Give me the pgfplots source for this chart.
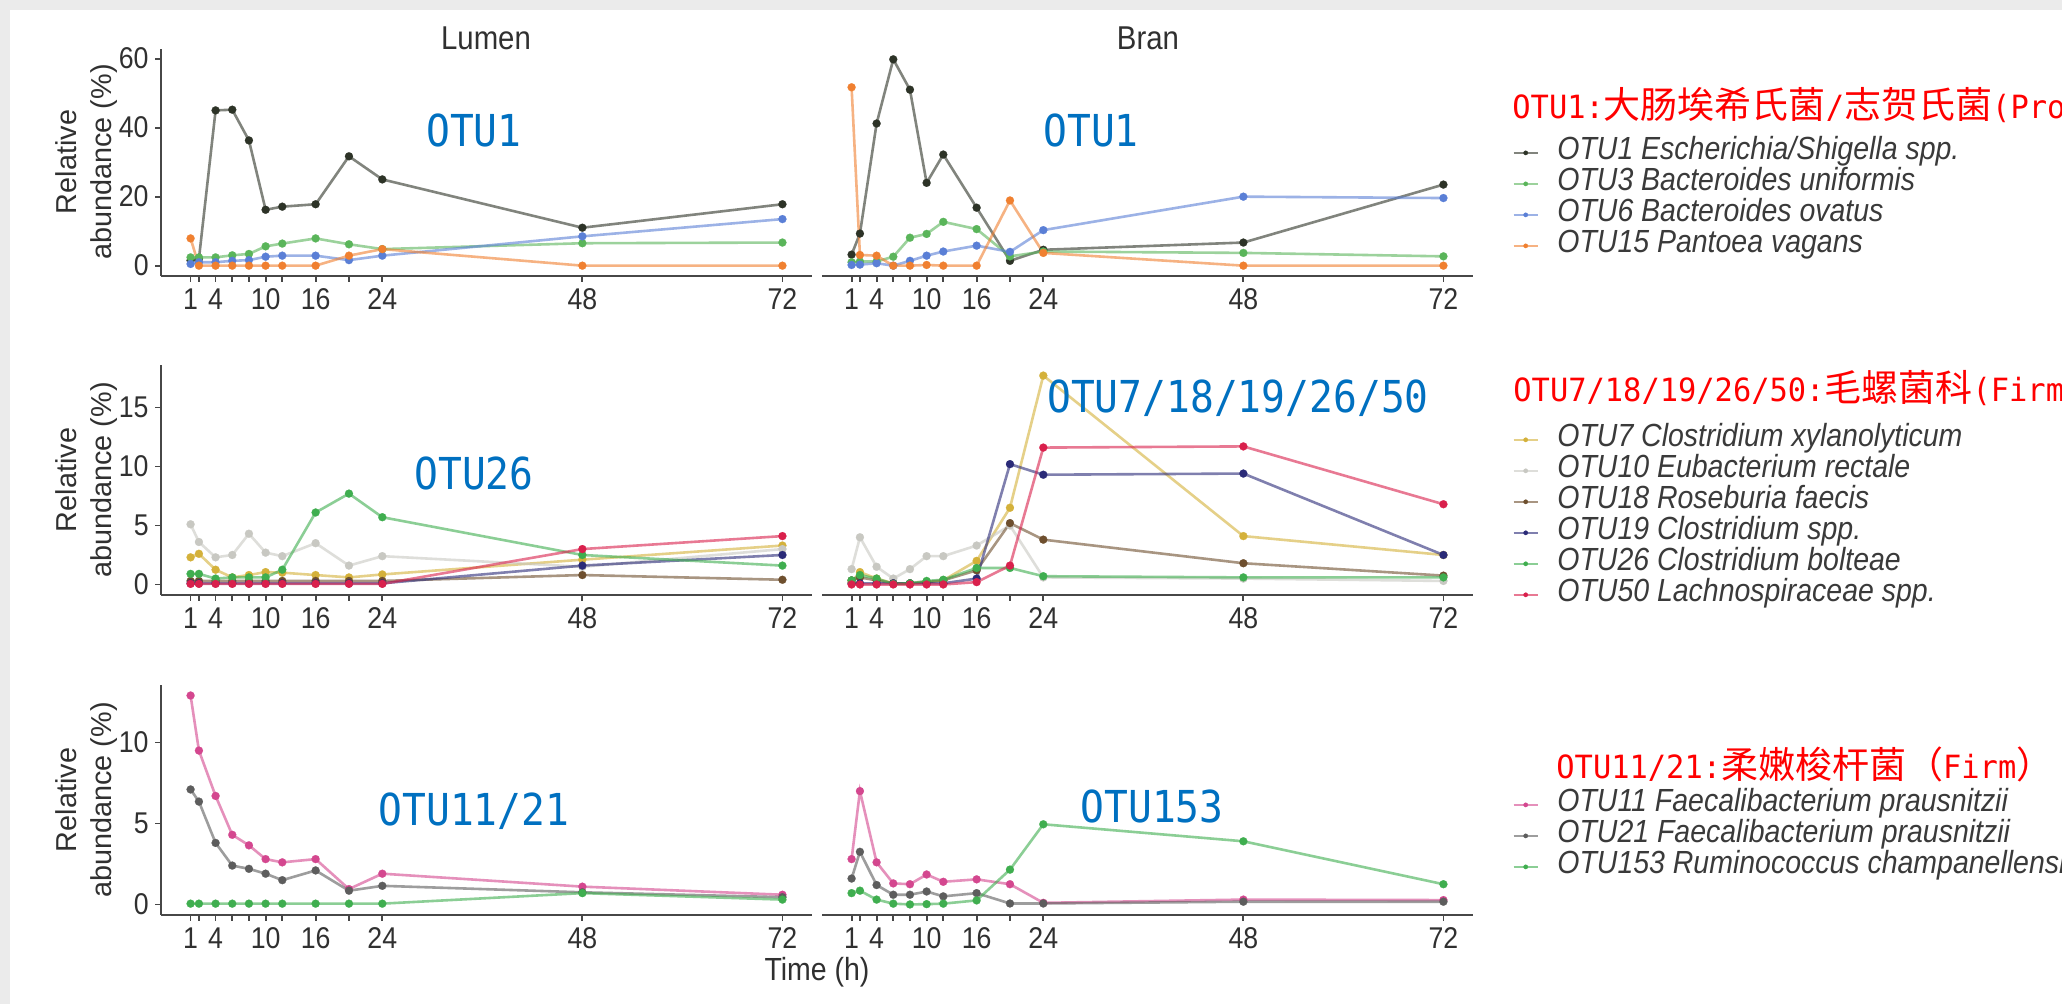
\documentclass[border=0pt]{standalone}
\usepackage{fontspec}
\setmainfont{Liberation Sans}[FakeStretch=0.89]
\newfontfamily\plainsans{Liberation Sans}
\newfontfamily\bluefont{DejaVu Sans Mono}[FakeStretch=0.9]
\newfontfamily\redlat{DejaVu Sans Mono}[FakeStretch=0.95]
\newfontfamily\cjk{Noto Sans CJK SC}
\usepackage{pgfplots}
\usepackage{pgfplotstable}
\pgfplotsset{compat=1.18}

\definecolor{axgray}{HTML}{474747}
\definecolor{tkgray}{HTML}{303030}
\definecolor{legtext}{HTML}{3A3A3A}
\definecolor{annblue}{HTML}{0070C0}
\definecolor{annred}{HTML}{FF0000}
\definecolor{cA}{HTML}{2D3327}
\definecolor{cB}{HTML}{5AB55A}
\definecolor{cC}{HTML}{5A7FD6}
\definecolor{cD}{HTML}{F08030}
\definecolor{cE}{HTML}{D4B13A}
\definecolor{cF}{HTML}{C8C8C2}
\definecolor{cG}{HTML}{6E4F2E}
\definecolor{cH}{HTML}{2B2B78}
\definecolor{cI}{HTML}{3FAE4F}
\definecolor{cJ}{HTML}{D9204C}
\definecolor{cK}{HTML}{D4478F}
\definecolor{cL}{HTML}{5D5D5D}

\newcommand\RL[1]{{\redlat\fontsize{16}{16}\selectfont #1}}
\newcommand\RC[1]{{\cjk\fontsize{18.5}{18.5}\selectfont #1}}

% Lumen / Bran, OTU1 group
\pgfplotstableread{
t o1 o3 o6 o15
1 1.5 2.4 0.5 7.9
2 2.0 2.4 1.0 0
4 45.0 2.4 1.0 0
6 45.2 3.0 1.4 0
8 36.3 3.4 1.6 0
10 16.2 5.6 2.6 0
12 17.1 6.4 2.9 0
16 17.8 7.9 2.9 0
20 31.7 6.2 1.6 2.9
24 25.0 4.8 2.9 4.8
48 11.0 6.5 8.5 0
72 17.8 6.7 13.5 0
}\tabTL
\pgfplotstableread{
t o1 o3 o6 o15
1 3.2 1.0 0.2 51.7
2 9.3 1.2 0.3 3.1
4 41.2 1.2 0.7 2.9
6 59.8 2.6 0.0 0
8 51.0 8.1 1.4 0
10 24.0 9.2 2.9 0.2
12 32.2 12.7 4.1 0
16 16.8 10.6 5.8 0
20 1.4 2.7 4.0 18.9
24 4.6 4.1 10.3 3.7
48 6.7 3.7 20.0 0
72 23.5 2.7 19.6 0
}\tabTR
% Firmicutes group
\pgfplotstableread{
t o7 o10 o18 o19 o26 o50
1 2.3 5.1 0.3 0.1 0.9 0.05
2 2.6 3.6 0.3 0.1 0.9 0.05
4 1.25 2.3 0.3 0.1 0.5 0.05
6 0.6 2.5 0.3 0.1 0.6 0.05
8 0.8 4.3 0.3 0.1 0.6 0.05
10 1.05 2.7 0.3 0.1 0.6 0.05
12 1.0 2.4 0.3 0.1 1.25 0.05
16 0.8 3.5 0.3 0.1 6.1 0.05
20 0.6 1.6 0.3 0.1 7.7 0.05
24 0.85 2.4 0.3 0.1 5.7 0.05
48 2.1 1.5 0.8 1.6 2.5 3.0
72 3.3 3.0 0.4 2.5 1.6 4.1
}\tabML
\pgfplotstableread{
t o7 o10 o18 o19 o26 o50
1 0.2 1.3 0.35 0.1 0.35 0
2 1.05 4.0 0.6 0.1 0.8 0
4 0.5 1.5 0.35 0.1 0.5 0
6 0.1 0.5 0.1 0.1 0.05 0
8 0.1 1.3 0.1 0.1 0.1 0
10 0.2 2.4 0.2 0.1 0.3 0
12 0.35 2.4 0.35 0.1 0.4 0
16 2.0 3.3 1.2 0.5 1.4 0.2
20 6.5 5.0 5.2 10.2 1.4 1.6
24 17.7 0.6 3.8 9.3 0.7 11.6
48 4.1 0.5 1.8 9.4 0.6 11.7
72 2.5 0.3 0.75 2.5 0.6 6.8
}\tabMR
% Faecalibacterium / Ruminococcus group
\pgfplotstableread{
t o11 o21 o153
1 12.9 7.1 0.05
2 9.5 6.35 0.05
4 6.7 3.8 0.05
6 4.3 2.4 0.05
8 3.65 2.2 0.05
10 2.8 1.9 0.05
12 2.6 1.5 0.05
16 2.8 2.1 0.05
20 0.95 0.85 0.05
24 1.9 1.15 0.05
48 1.1 0.75 0.7
72 0.6 0.45 0.3
}\tabBL
\pgfplotstableread{
t o11 o21 o153
1 2.8 1.6 0.7
2 7.0 3.25 0.85
4 2.6 1.2 0.3
6 1.3 0.6 0.05
8 1.25 0.6 0.0
10 1.85 0.8 0.02
12 1.4 0.5 0.05
16 1.55 0.7 0.25
20 1.25 0.06 2.15
24 0.1 0.06 4.95
48 0.3 0.17 3.9
72 0.27 0.17 1.25
}\tabBR

\pgfplotsset{
  panel/.style={
    scale only axis, width=325.5pt,
    xmin=-2.55, xmax=75.55,
    axis x line*=bottom, axis y line*=left,
    axis line style={-, draw=axgray, line width=1.1pt},
    every outer x axis line/.append style={-},
    every outer y axis line/.append style={-},
    tick align=outside, major tick length=3pt,
    tick style={draw=axgray, line width=0.9pt},
    xtick={1,2,4,6,8,10,12,16,20,24,48,72},
    xticklabels={1,,4,,,10,,16,,24,48,72},
    ticklabel style={font=\fontsize{15}{15}\selectfont, text=tkgray, inner sep=0pt},
    xticklabel shift=3pt, yticklabel shift=3pt,
    /pgf/number format/assume math mode=true,
    clip=false,
  },
  rpanel/.style={panel, axis y line=none, ymajorticks=false,
    legend cell align=left,
    legend style={draw=none, fill=none, inner sep=0pt, outer sep=0pt, row sep=0pt,
      font=\itshape\fontsize{16}{16}\selectfont, text=legtext,
      nodes={inner sep=0pt, text height=11pt, text depth=4.5pt},
      /tikz/every odd column/.append style={column sep=9.5pt}},
    legend image code/.code={\draw[##1, line width=0.7pt, mark size=1.1pt, mark repeat=2, mark phase=2] plot coordinates {(0pt,0pt) (6pt,0pt) (12pt,0pt)};},
  },
  ser/.style={draw=#1, draw opacity=0.6, line width=1.3pt, mark=*, mark size=2pt,
    mark options={draw=#1, fill=#1, opacity=1, line width=0.1pt}},
}

\begin{document}
\begin{tikzpicture}
\path[use as bounding box, clip] (0pt,0pt) rectangle (1031pt,502pt);
\fill[black!8] (0pt,0pt) rectangle (1031pt,502pt);
\fill[white] (5pt,0pt) rectangle (1031pt,497pt);

% ---- row 1 ----
\begin{axis}[panel, at={(80.5pt,364pt)}, height=113.5pt,
  ymin=-2.99, ymax=62.8, ytick={0,20,40,60}]
\addplot[ser=cA] table[x=t,y=o1]{\tabTL};
\addplot[ser=cB] table[x=t,y=o3]{\tabTL};
\addplot[ser=cC] table[x=t,y=o6]{\tabTL};
\addplot[ser=cD] table[x=t,y=o15]{\tabTL};
\end{axis}
\begin{axis}[rpanel, at={(411pt,364pt)}, height=113.5pt,
  ymin=-2.99, ymax=62.8,
  legend style={at={(1.0614,0.6106)}, anchor=north west}]
\addplot[ser=cA] table[x=t,y=o1]{\tabTR};
\addlegendentry{OTU1 Escherichia/Shigella spp.}
\addplot[ser=cB] table[x=t,y=o3]{\tabTR};
\addlegendentry{OTU3 Bacteroides uniformis}
\addplot[ser=cC] table[x=t,y=o6]{\tabTR};
\addlegendentry{OTU6 Bacteroides ovatus}
\addplot[ser=cD] table[x=t,y=o15]{\tabTR};
\addlegendentry{OTU15 Pantoea vagans}
\end{axis}

% ---- row 2 ----
\begin{axis}[panel, at={(80.5pt,204.5pt)}, height=115pt,
  ymin=-0.89, ymax=18.6, ytick={0,5,10,15}]
\addplot[ser=cE] table[x=t,y=o7]{\tabML};
\addplot[ser=cF] table[x=t,y=o10]{\tabML};
\addplot[ser=cG] table[x=t,y=o18]{\tabML};
\addplot[ser=cH] table[x=t,y=o19]{\tabML};
\addplot[ser=cI] table[x=t,y=o26]{\tabML};
\addplot[ser=cJ] table[x=t,y=o50]{\tabML};
\end{axis}
\begin{axis}[rpanel, at={(411pt,204.5pt)}, height=115pt,
  ymin=-0.89, ymax=18.6,
  legend style={at={(1.0614,0.742)}, anchor=north west}]
\addplot[ser=cE] table[x=t,y=o7]{\tabMR};
\addlegendentry{OTU7 Clostridium xylanolyticum}
\addplot[ser=cF] table[x=t,y=o10]{\tabMR};
\addlegendentry{OTU10 Eubacterium rectale}
\addplot[ser=cG] table[x=t,y=o18]{\tabMR};
\addlegendentry{OTU18 Roseburia faecis}
\addplot[ser=cH] table[x=t,y=o19]{\tabMR};
\addlegendentry{OTU19 Clostridium spp.}
\addplot[ser=cI] table[x=t,y=o26]{\tabMR};
\addlegendentry{OTU26 Clostridium bolteae}
\addplot[ser=cJ] table[x=t,y=o50]{\tabMR};
\addlegendentry{OTU50 Lachnospiraceae spp.}
\end{axis}

% ---- row 3 ----
\begin{axis}[panel, at={(80.5pt,44.5pt)}, height=115pt,
  ymin=-0.65, ymax=13.55, ytick={0,5,10}]
\addplot[ser=cK] table[x=t,y=o11]{\tabBL};
\addplot[ser=cL] table[x=t,y=o21]{\tabBL};
\addplot[ser=cI] table[x=t,y=o153]{\tabBL};
\end{axis}
\begin{axis}[rpanel, at={(411pt,44.5pt)}, height=115pt,
  ymin=-0.65, ymax=13.55,
  legend style={at={(1.0614,0.546)}, anchor=north west}]
\addplot[ser=cK] table[x=t,y=o11]{\tabBR};
\addlegendentry{OTU11 Faecalibacterium prausnitzii}
\addplot[ser=cL] table[x=t,y=o21]{\tabBR};
\addlegendentry{OTU21 Faecalibacterium prausnitzii}
\addplot[ser=cI] table[x=t,y=o153]{\tabBR};
\addlegendentry{OTU153 Ruminococcus champanellensis}
\end{axis}

% strip titles and axis titles
\node[text=tkgray, font=\fontsize{16.5}{16.5}\selectfont] at (243pt,483pt) {Lumen};
\node[text=tkgray, font=\fontsize{16.5}{16.5}\selectfont] at (574pt,483pt) {Bran};
\node[text=tkgray, font=\fontsize{16}{16}\selectfont] at (408.5pt,16pt) {Time (h)};
\foreach \yy in {421,262,102} {
  \node[text=tkgray, rotate=90, align=center, font=\plainsans\fontsize{14.4}{17.5}\selectfont]
    at (43.5pt,\yy pt) {Relative\\abundance (\%)};
}

% blue annotations
\begin{scope}[every node/.style={text=annblue, font=\bluefont\fontsize{22}{22}\selectfont}]
\node at (237pt,436.5pt) {OTU1};
\node at (545.5pt,436.5pt) {OTU1};
\node at (237pt,265.5pt) {OTU26};
\node at (619pt,303pt) {OTU7/18/19/26/50};
\node at (237pt,96.5pt) {OTU11/21};
\node at (576pt,99pt) {OTU153};
\end{scope}

% red annotations
\begin{scope}[every node/.style={text=annred, anchor=west, inner sep=0pt}]
\node at (756pt,449.5pt) {\RL{OTU1:}\RC{大肠埃希氏菌}\RL{/}\RC{志贺氏菌}\RL{(Proteobacteria)}};
\node at (756.5pt,308pt) {\RL{OTU7/18/19/26/50:}\RC{毛螺菌科}\RL{(Firmicutes)}};
\node at (778pt,120pt) {\RL{OTU11/21:}\RC{柔嫩梭杆菌（}\RL{Firm}\RC{）}};
\end{scope}
\end{tikzpicture}
\end{document}
